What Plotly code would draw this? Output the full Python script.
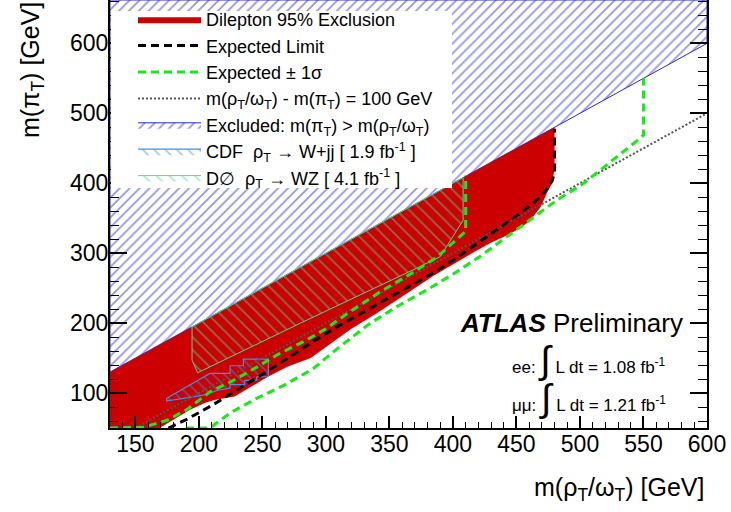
import plotly.graph_objects as go

FONT = "Liberation Sans, Arial, Helvetica, sans-serif"

# ---- axes ----
X_RANGE = [130, 600]
Y_RANGE = [50, 662]
X_TICKS = [150, 200, 250, 300, 350, 400, 450, 500, 550, 600]
Y_TICKS = [100, 200, 300, 400, 500, 600]

# ---- excluded kinematic region m(piT) > m(rhoT/omegaT) ----
excl_x = [130, 600, 600, 130, 130]
excl_y = [130, 600, 662, 662, 130]

# ---- observed dilepton 95% exclusion (closed contour) ----
obs_x = [130, 480, 480, 478, 474, 469, 461, 453, 443, 429, 416, 400, 385, 360, 340,
         320, 300, 288, 270, 255, 240, 228, 212, 205, 193, 175, 169, 130, 130]
obs_y = [130, 480, 420, 400, 386, 366, 347, 336, 326, 314, 301, 284, 268, 238, 214,
         192, 165, 150, 138, 124, 108, 95, 90, 86, 76, 56, 50, 50, 130]

# ---- expected limit ----
exp_x = [176, 190, 210, 230, 250, 270, 290, 310, 330, 350, 370, 390, 405, 420, 432,
         442, 455, 466, 474, 478, 480, 480]
exp_y = [50, 62, 82, 104, 127, 150, 174, 196, 217, 237, 257, 278, 296, 315, 330,
         343, 360, 376, 392, 403, 415, 478]

# ---- expected +-1 sigma ----
sig_in_x = [130, 156, 175, 191, 209, 225, 240, 262, 285, 300, 317, 343, 369, 388,
            397, 405, 410, 410]
sig_in_y = [50, 51, 61, 77, 102, 116, 131, 155, 176, 192, 214, 245, 273, 295,
            310, 323, 331, 411]
sig_out_x = [190, 209, 213, 225, 245, 268, 290, 310, 335, 358, 380, 400, 421, 442,
             461, 482, 503, 526, 545, 550, 550]
sig_out_y = [50, 50, 56, 72, 92, 112, 135, 165, 200, 226, 248, 270, 295, 323,
             347, 376, 400, 433, 461, 469, 551]

# ---- m(rhoT) - m(piT) = 100 GeV ----
diag_x = [150, 600]
diag_y = [50, 500]

# ---- CDF rhoT -> W+jj ----
cdf_x = [174.6, 208.7, 224.5, 224.5, 235, 235, 254.6, 254.6, 245.5, 245.5, 236, 236,
         224.5, 224.5, 215, 203.5, 174.6, 174.6]
cdf_y = [92.4, 128, 128, 139, 139, 148.6, 148.6, 123.3, 123.3, 118, 118, 112,
         112, 107, 104, 97, 88.6, 92.4]

# ---- D0 rhoT -> WZ ----
d0_x = [194.6, 408, 408, 395, 390, 372, 280, 199, 194.6, 194.6]
d0_y = [194.6, 408, 347, 309, 295, 279, 200, 129, 147, 194.6]

RED = "#cc0000"
BLUE = "#2a2ad0"
CDF_BLUE = "#3f8fe8"
D0_GREEN = "#44dd99"
LIME = "#11ee11"

fig = go.Figure()

fig.add_trace(go.Scatter(
    x=excl_x, y=excl_y, mode="lines", fill="toself",
    fillcolor="rgba(0,0,0,0)",
    fillpattern=dict(shape="/", fgcolor=BLUE, bgcolor="rgba(0,0,0,0)", size=7, solidity=0.25),
    line=dict(color=BLUE, width=1),
    name="Excluded: m(π<sub>T</sub>) > m(ρ<sub>T</sub>/ω<sub>T</sub>)", legendrank=5,
    hoverinfo="skip"))

fig.add_trace(go.Scatter(
    x=obs_x, y=obs_y, mode="lines", fill="toself", fillcolor=RED,
    line=dict(color=RED, width=0),
    name="Dilepton 95% Exclusion", legendrank=1, hoverinfo="skip"))

fig.add_trace(go.Scatter(
    x=d0_x, y=d0_y, mode="lines", fill="toself", fillcolor="rgba(0,0,0,0)",
    fillpattern=dict(shape="\\", fgcolor=D0_GREEN, bgcolor="rgba(0,0,0,0)", size=9, solidity=0.2),
    line=dict(color=D0_GREEN, width=1),
    name="D∅  ρ<sub>T</sub> → WZ [ 4.1 fb<sup>-1</sup> ]", legendrank=7, hoverinfo="skip"))

fig.add_trace(go.Scatter(
    x=cdf_x, y=cdf_y, mode="lines", fill="toself", fillcolor="rgba(0,0,0,0)",
    fillpattern=dict(shape="\\", fgcolor=CDF_BLUE, bgcolor="rgba(0,0,0,0)", size=8, solidity=0.2),
    line=dict(color=CDF_BLUE, width=1.2),
    name="CDF  ρ<sub>T</sub> → W+jj [ 1.9 fb<sup>-1</sup> ]", legendrank=6, hoverinfo="skip"))

fig.add_trace(go.Scatter(
    x=diag_x, y=diag_y, mode="lines",
    line=dict(color="#555555", width=2, dash="2px,2px"),
    name="m(ρ<sub>T</sub>/ω<sub>T</sub>) - m(π<sub>T</sub>) = 100 GeV", legendrank=4,
    hoverinfo="skip"))

fig.add_trace(go.Scatter(
    x=sig_in_x, y=sig_in_y, mode="lines",
    line=dict(color=LIME, width=3, dash="8px,5px"),
    name="Expected ± 1σ", legendrank=3, legendgroup="sig", hoverinfo="skip"))
fig.add_trace(go.Scatter(
    x=sig_out_x, y=sig_out_y, mode="lines",
    line=dict(color=LIME, width=3, dash="8px,5px"),
    name="Expected ± 1σ", legendgroup="sig", showlegend=False, hoverinfo="skip"))

fig.add_trace(go.Scatter(
    x=exp_x, y=exp_y, mode="lines",
    line=dict(color="black", width=3, dash="8px,5px"),
    name="Expected Limit", legendrank=2, hoverinfo="skip"))

PLOT_L, PLOT_R, PLOT_T, PLOT_B = 110, 707, 0, 428
PW, PH = PLOT_R - PLOT_L, PLOT_B - PLOT_T


def px(xp):
    return (xp - PLOT_L) / PW


def py(yp):
    return (PLOT_B - yp) / PH


fig.update_layout(
    width=731, height=512,
    margin=dict(l=PLOT_L, r=731 - PLOT_R, t=PLOT_T, b=512 - PLOT_B, autoexpand=False),
    paper_bgcolor="white", plot_bgcolor="white",
    font=dict(family=FONT, color="black"),
    showlegend=True,
    legend=dict(x=px(133), y=py(1), xanchor="left", yanchor="top",
                bgcolor="rgba(0,0,0,0)", borderwidth=0, font=dict(size=18, family=FONT),
                itemwidth=63, tracegroupgap=0, traceorder="normal"),
    shapes=[dict(type="rect", xref="paper", yref="paper", layer="above",
                 x0=px(111), x1=px(452), y0=py(188), y1=py(11),
                 fillcolor="white", line=dict(width=0))],
    xaxis=dict(range=X_RANGE, tickvals=X_TICKS, ticks="inside", ticklen=12, tickwidth=1.5,
               tickcolor="black", showline=True, linewidth=2, linecolor="black",
               mirror=False, showgrid=False, zeroline=False, ticklabelstandoff=-6,
               tickfont=dict(size=23, family=FONT),
               minor=dict(dtick=10, tick0=130, ticks="inside", ticklen=6, tickwidth=1, tickcolor="black")),
    yaxis=dict(range=Y_RANGE, tickvals=Y_TICKS, ticks="inside", ticklen=17, tickwidth=1.5,
               tickcolor="black", showline=True, linewidth=2, linecolor="black",
               mirror="ticks", showgrid=False, zeroline=False, ticklabelstandoff=-5,
               tickfont=dict(size=23, family=FONT),
               minor=dict(dtick=20, tick0=60, ticks="inside", ticklen=9, tickwidth=1, tickcolor="black")),
    annotations=[
        dict(text="m(ρ<sub>T</sub>/ω<sub>T</sub>) [GeV]", xref="paper", yref="paper",
             x=px(706), y=py(489), xanchor="right", yanchor="middle", showarrow=False,
             font=dict(size=25, family=FONT)),
        dict(text="m(π<sub>T</sub>) [GeV]", xref="paper", yref="paper", textangle=-90,
             x=px(32), y=py(0), xanchor="center", yanchor="top", showarrow=False,
             font=dict(size=25, family=FONT)),
        dict(text="<b><i>ATLAS</i></b> Preliminary", xref="paper", yref="paper",
             x=px(685), y=py(323), xanchor="right", yanchor="middle", showarrow=False,
             font=dict(size=26, family=FONT)),
        dict(text="ee: <span style='font-size:38px'>∫</span> L dt = 1.08 fb<sup>-1</sup>",
             xref="paper", yref="paper", x=px(668), y=py(360), xanchor="right", yanchor="middle",
             showarrow=False, font=dict(size=17, family=FONT)),
        dict(text="μμ: <span style='font-size:38px'>∫</span> L dt = 1.21 fb<sup>-1</sup>",
             xref="paper", yref="paper", x=px(668), y=py(398), xanchor="right", yanchor="middle",
             showarrow=False, font=dict(size=17, family=FONT)),
    ],
)

fig.write_html("out.html", config={"displayModeBar": False},
               post_script="document.body.style.margin='0px';")
